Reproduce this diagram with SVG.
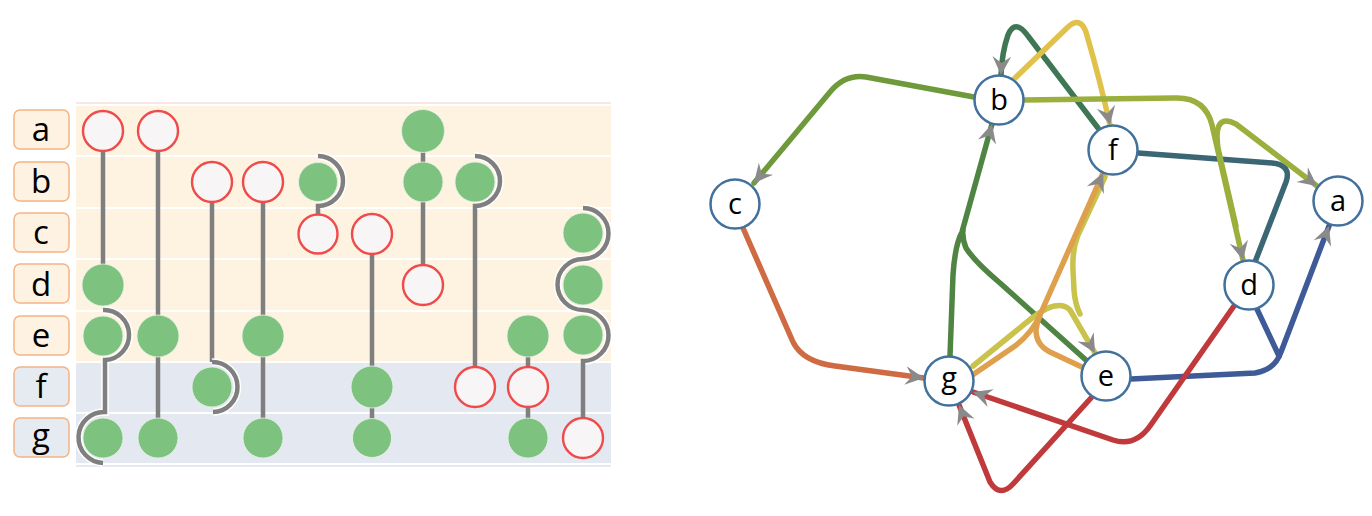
<svg xmlns="http://www.w3.org/2000/svg" width="1372" height="516" viewBox="0 0 1372 516">
<style>
.lbl{fill:#fef2e3;stroke:#f4b486;stroke-width:1.5}
.lblb{fill:#e6eaf1;stroke:#f4b486;stroke-width:1.5}
.lt{font-family:"Open Sans","Liberation Sans",sans-serif;font-size:33px;fill:#000;text-anchor:middle}
.bo{fill:#fef2e1}
.bb{fill:#e4e9f1}
.v{stroke:#7f7f7f;stroke-width:4.5;fill:none}
.arc{fill:none;stroke:#7f7f7f;stroke-width:4.5}
.halo{fill:none;stroke:#ffffff;stroke-width:7.5}
.red{fill:#f7f5f5;stroke:#ef4b4b;stroke-width:2.4}
.grn{fill:#7dc27f;stroke:#e8f3e8;stroke-width:0.8}
.e{fill:none;stroke-width:5.5;stroke-linecap:round;stroke-linejoin:round}
.nd{fill:#ffffff;stroke:#41719c;stroke-width:2.5}
.nt{font-family:"Open Sans","Liberation Sans",sans-serif;font-size:29px;fill:#000;text-anchor:middle}
</style>
<defs>
<marker id="ar" markerUnits="userSpaceOnUse" markerWidth="22" markerHeight="22" viewBox="-18 -10 20 20" refX="0" refY="0" orient="auto">
<path d="M0,0 L-17,-8.5 L-11,0 L-17,8.5 Z" fill="#8a8a8a"/>
</marker>
</defs>
<rect width="1372" height="516" fill="#ffffff"/>

<!-- matrix -->
<g id="matrix">
<rect x="76" y="102" width="535" height="2" fill="#fbe6e6"/>
<rect class="bo" x="76" y="106" width="535" height="49"/>
<rect class="bo" x="76" y="157" width="535" height="50"/>
<rect class="bo" x="76" y="209" width="535" height="49"/>
<rect class="bo" x="76" y="260" width="535" height="50"/>
<rect class="bo" x="76" y="312" width="535" height="49"/>
<rect class="bb" x="76" y="363" width="535" height="49"/>
<rect class="bb" x="76" y="414" width="535" height="49"/>
<rect x="76" y="465" width="535" height="2" fill="#e4e9f1"/>

<g id="row-labels">
<rect class="lbl" x="14" y="110" width="55" height="39" rx="6"/>
<rect class="lbl" x="14" y="162" width="55" height="39" rx="6"/>
<rect class="lbl" x="14" y="213" width="55" height="39" rx="6"/>
<rect class="lbl" x="14" y="264" width="55" height="39" rx="6"/>
<rect class="lbl" x="14" y="316" width="55" height="39" rx="6"/>
<rect class="lblb" x="14" y="367" width="55" height="39" rx="6"/>
<rect class="lblb" x="14" y="418" width="55" height="39" rx="6"/>
<text class="lt" x="41" y="141">a</text>
<text class="lt" x="41" y="193">b</text>
<text class="lt" x="41" y="244">c</text>
<text class="lt" x="41" y="296">d</text>
<text class="lt" x="41" y="347">e</text>
<text class="lt" x="41" y="398">f</text>
<text class="lt" x="41" y="447">g</text>
</g>

<!-- column connectors -->
<g id="matrix-lines">
<line class="v" x1="103" y1="150" x2="103" y2="266"/>
<path class="halo" d="M103,310 A25,25 0 0 1 105,360 L105,412 A25,25 0 0 0 103,463"/>
<path class="arc" d="M103,310 A25,25 0 0 1 105,360 L105,412 A25,25 0 0 0 103,463"/>
<line class="v" x1="158" y1="150" x2="158" y2="420"/>
<line class="v" x1="212" y1="200" x2="212" y2="362"/>
<path class="halo" d="M212,362 A25,25 0 0 1 213,412"/>
<path class="arc" d="M212,362 A25,25 0 0 1 213,412"/>
<line class="v" x1="263" y1="200" x2="263" y2="420"/>
<path class="halo" d="M318,156 A25,25 0 0 1 318,206"/>
<path class="arc" d="M318,156 A25,25 0 0 1 318,206 L318,215"/>
<line class="v" x1="372" y1="252" x2="372" y2="420"/>
<line class="v" x1="423" y1="150" x2="423" y2="268"/>
<path class="halo" d="M475,156 A25,25 0 0 1 475,206"/>
<path class="arc" d="M475,156 A25,25 0 0 1 475,206 L475,370"/>
<line class="v" x1="528" y1="352" x2="528" y2="420"/>
<path class="halo" d="M583,208 A25,25 0 0 1 583,259 A25,25 0 0 0 583,310 A25,25 0 0 1 583,361"/>
<path class="arc" d="M583,208 A25,25 0 0 1 583,259 A25,25 0 0 0 583,310 A25,25 0 0 1 583,361 L583,420"/>
</g>

<g id="matrix-dots">
<circle class="red" cx="103" cy="131" r="20"/>
<circle class="grn" cx="103" cy="285" r="21"/>
<circle class="grn" cx="103" cy="336" r="20"/>
<circle class="grn" cx="103" cy="438" r="20"/>
<circle class="red" cx="158" cy="131" r="20"/>
<circle class="grn" cx="158" cy="336" r="21"/>
<circle class="grn" cx="158" cy="438" r="20"/>
<circle class="red" cx="212" cy="182" r="20"/>
<circle class="grn" cx="212" cy="387" r="20"/>
<circle class="red" cx="263" cy="182" r="20"/>
<circle class="grn" cx="263" cy="336" r="21"/>
<circle class="grn" cx="263" cy="438" r="20"/>
<circle class="grn" cx="318" cy="182" r="19.5"/>
<circle class="red" cx="318" cy="234" r="19.5"/>
<circle class="red" cx="372" cy="234" r="20"/>
<circle class="grn" cx="372" cy="387" r="21"/>
<circle class="grn" cx="372" cy="438" r="19.5"/>
<circle class="grn" cx="423" cy="131" r="21.5"/>
<circle class="grn" cx="423" cy="182" r="20"/>
<circle class="red" cx="423" cy="285" r="20"/>
<circle class="grn" cx="475" cy="182" r="20"/>
<circle class="red" cx="475" cy="387" r="20"/>
<circle class="grn" cx="528" cy="336" r="21"/>
<circle class="red" cx="528" cy="387" r="20"/>
<circle class="grn" cx="528" cy="438" r="20"/>
<circle class="grn" cx="583" cy="233" r="20"/>
<circle class="grn" cx="583" cy="285" r="20"/>
<circle class="grn" cx="583" cy="335" r="20"/>
<circle class="red" cx="583" cy="438" r="20"/>
</g>
</g>

<!-- graph connectors -->
<g id="connectors">
<path class="e" stroke="#6f9a3b" d="M974,97 L866,77 Q845,74 830,92 L754,183" marker-end="url(#ar)"/>
<path class="e" stroke="#3f7653" d="M1098,128 L1028,36 Q1015,18 1008,35 Q1002,52 1001,75" marker-end="url(#ar)"/>
<path class="e" stroke="#e0c24a" d="M1013,80 L1068,27 Q1080,16 1086,32 Q1100,80 1110,125" marker-end="url(#ar)"/>
<path class="e" stroke="#3b6673" d="M1138,153 L1272,163 Q1292,165 1286,182 L1255,262"/>
<path class="e" stroke="#9aaf3c" d="M1024,100 L1175,98 Q1205,97 1212,125 L1243,260" marker-end="url(#ar)"/>
<path class="e" stroke="#9aaf3c" d="M1236,226 L1218,148 Q1213,112 1236,124 L1317,186" marker-end="url(#ar)"/>
<path class="e" stroke="#3e5b97" stroke-width="6.5" d="M1131,379 L1255,373 Q1275,370 1281,352 L1329,226" marker-end="url(#ar)"/>
<path class="e" stroke="#3e5b97" stroke-width="6.5" d="M1256,307 L1279,356"/>
<path class="e" stroke="#c0393b" d="M1234,306 L1150,426 Q1135,447 1113,440 L973,392" marker-end="url(#ar)"/>
<path class="e" stroke="#c0393b" d="M1091,398 L1013,484 Q1000,498 990,482 L959,405" marker-end="url(#ar)"/>
<path class="e" stroke="#cf6b43" d="M743,228 L793,342 Q803,362 835,366 L924,378" marker-end="url(#ar)"/>
<path class="e" stroke="#4f8443" d="M950,356 L953,275 Q955,245 962,232 L992,124" marker-end="url(#ar)"/>
<path class="e" stroke="#4f8443" d="M1087,361 L1000,283 Q975,262 966,248 Q962,238 963,230"/>
<path class="e" stroke="#c9c24b" d="M973,366 L1032,318 Q1058,298 1070,310 L1095,353" marker-end="url(#ar)"/>
<path class="e" stroke="#c9c24b" d="M1105,177 L1078,235 Q1072,250 1073,270 L1074,290 Q1075,304 1080,314"/>
<path class="e" stroke="#dfa04e" d="M1084,368 L1050,352 Q1036,345 1036,330 Q1037,322 1040,315"/>
<path class="e" stroke="#dfa04e" d="M974,374 L1015,346 Q1032,333 1040,315 L1103,173" marker-end="url(#ar)"/>
</g>

<!-- graph nodes -->
<g id="node-a"><circle class="nd" cx="1338" cy="201" r="24.5"/><text class="nt" x="1338" y="211">a</text></g>
<g id="node-b"><circle class="nd" cx="999" cy="100" r="24.5"/><text class="nt" x="999" y="110">b</text></g>
<g id="node-c"><circle class="nd" cx="735" cy="204" r="24.5"/><text class="nt" x="735" y="214">c</text></g>
<g id="node-d"><circle class="nd" cx="1249" cy="285" r="24.5"/><text class="nt" x="1249" y="295">d</text></g>
<g id="node-e"><circle class="nd" cx="1106" cy="376" r="24.5"/><text class="nt" x="1106" y="386">e</text></g>
<g id="node-f"><circle class="nd" cx="1113" cy="150" r="24.5"/><text class="nt" x="1113" y="160">f</text></g>
<g id="node-g"><circle class="nd" cx="949" cy="381" r="24.5"/><text class="nt" x="949" y="388">g</text></g>
</svg>
